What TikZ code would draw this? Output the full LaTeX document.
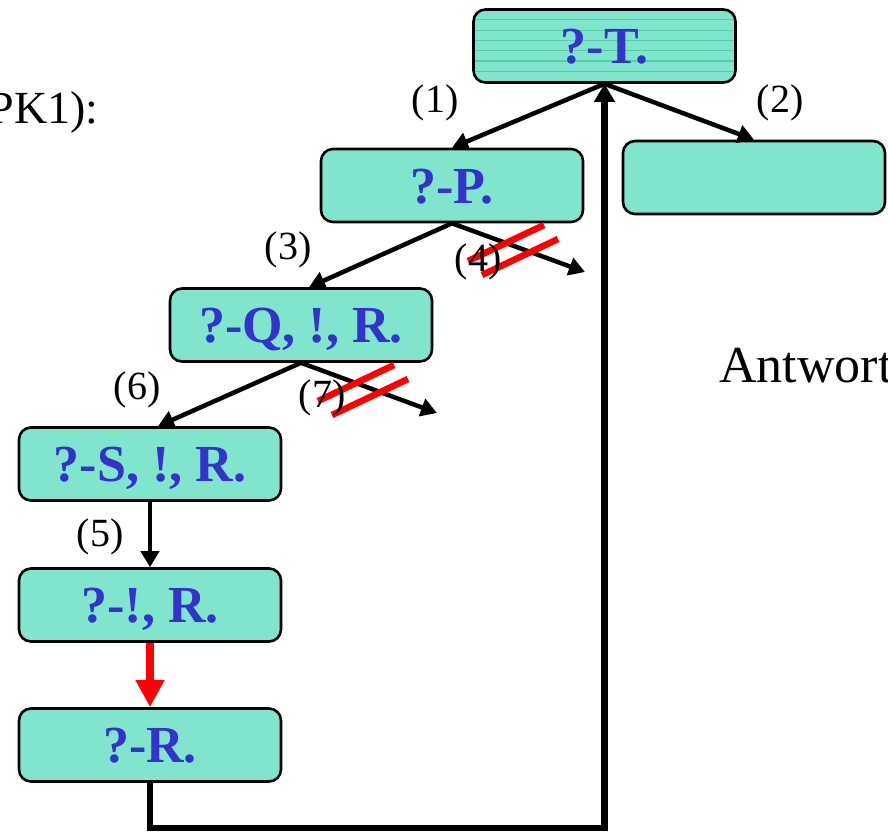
\documentclass[tikz,border=0pt]{standalone}
\usepackage{fontspec}
\setmainfont{Liberation Serif}
\usetikzlibrary{arrows.meta}

\definecolor{goalfill}{RGB}{128,229,204}
\definecolor{goalline}{RGB}{88,204,168}
\definecolor{goaltext}{RGB}{51,51,204}

\begin{document}
\begin{tikzpicture}[x=1pt,y=-1pt,->,>={Triangle[length=16pt,width=18pt]},
                    line width=4.5pt]
  \tikzstyle{goal}=[draw=black,line width=2.6pt,fill=goalfill,rounded corners=12pt,
                    minimum width=262pt,minimum height=73pt,text=goaltext,
                    text height=35pt,text depth=0pt,
                    font=\fontsize{52}{52}\selectfont\bfseries]
  \tikzstyle{num}=[font=\fontsize{40}{40}\selectfont]
  \tikzstyle{strike}=[-,red,line width=6.5pt]

  \path[use as bounding box,clip] (0,0) rectangle (888,833);

  % goals
  \node[goal,path picture={\foreach \k in {1,...,7}
      \draw[-,goalline,line width=1.2pt]
        ([yshift=-\k*10.3pt]path picture bounding box.north west) --
        ([yshift=-\k*10.3pt]path picture bounding box.north east);}]
                 (T) at (604.5,46)  {?-T.};
  \node[goal]    (P) at (452,185.5) {?-P.};
  \node[goal]    (E) at (754,177.5) {};
  \node[goal]    (Q) at (301,325)   {?-Q, !, R.};
  \node[goal]    (S) at (150,464)   {?-S, !, R.};
  \node[goal]    (C) at (150,605)   {?-!, R.};
  \node[goal]    (R) at (150,745)   {?-R.};

  \coordinate (e4) at (585,272);
  \coordinate (e7) at (437,413);
  \coordinate (x4) at (513,250);
  \coordinate (x7) at (363,390);

  % side texts
  \node[font=\fontsize{46}{46}\selectfont,inner sep=0pt,anchor=base east] (pk) at (101,123) {PK1):};
  \node[font=\fontsize{52}{52}\selectfont,inner sep=0pt,anchor=base west] (ans) at (717,382) {Antwort};

  % derivation steps
  \path (T.south) edge (P.north)
        (T.south) edge (E.north)
        (P.south) edge ([xshift=8pt]Q.north)
        (P.south) edge (e4)
        (Q.south) edge ([xshift=8pt]S.north)
        (Q.south) edge (e7)
        (S.south) edge (C.north);
  \draw[red,line width=8pt,-{Triangle[length=27pt,width=27pt]}] (C.south) -- (R.north);
  \draw[line width=6.5pt,-{Triangle[length=18pt,width=20pt]}]
        (R.south) -- ++(0,45) -| (T.south);

  % cut branches
  \foreach \c in {x4,x7} {
    \draw[strike] ([shift={(-45,11)}]\c) -- ([shift={(31,-25)}]\c);
    \draw[strike] ([shift={(-31,25)}]\c) -- ([shift={(45,-11)}]\c);
  }

  % step numbers
  \node[num] (n1) at (435,103) {(1)};
  \node[num] (n2) at (780,103) {(2)};
  \node[num] (n3) at (288,250) {(3)};
  \node[num] (n4) at (478,262) {(4)};
  \node[num] (n6) at (137,390) {(6)};
  \node[num] (n7) at (322,398) {(7)};
  \node[num] (n5) at (100,537) {(5)};
\end{tikzpicture}
\end{document}
